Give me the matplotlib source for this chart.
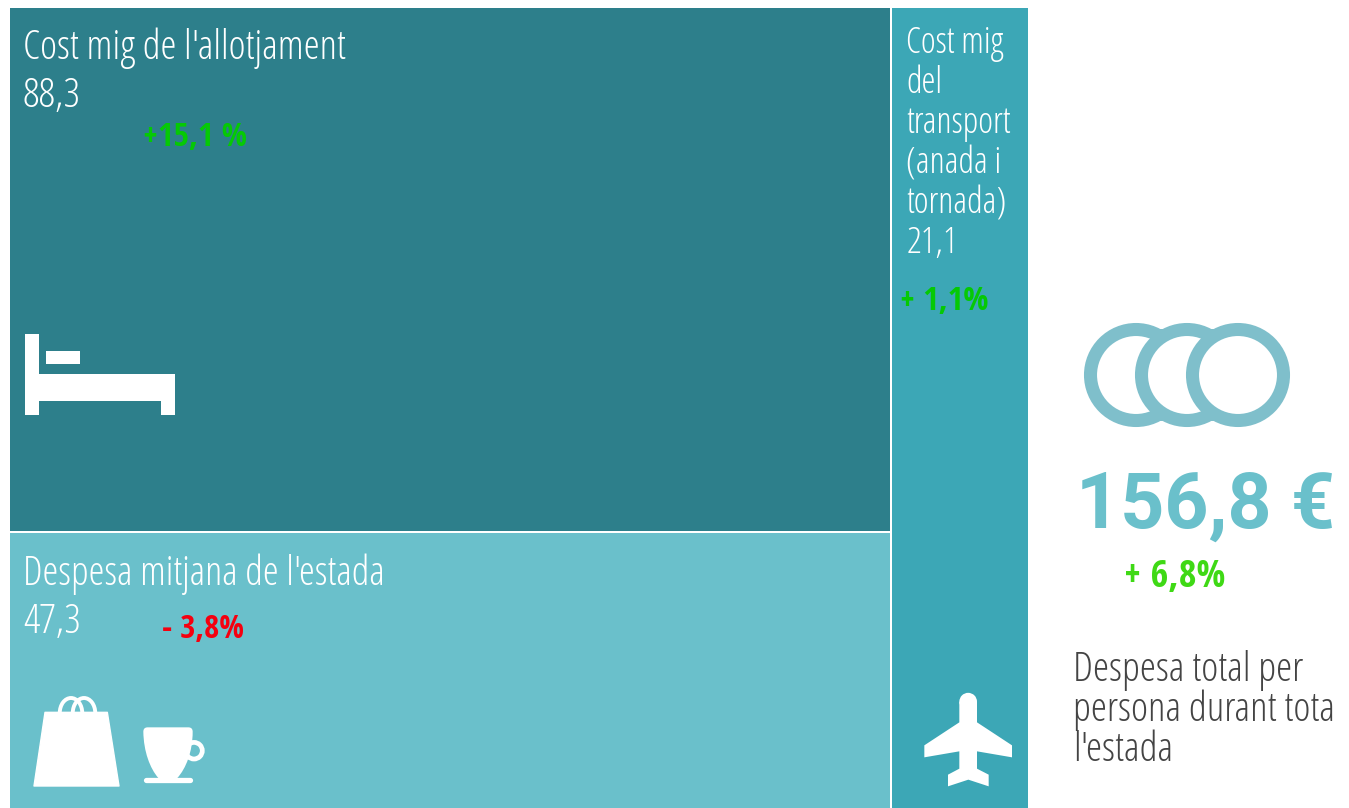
#!/usr/bin/env python3
"""Treemap of average spend per person, with icons and total panel."""

import numpy as np
import matplotlib
matplotlib.use("Agg")
import matplotlib.pyplot as plt
from matplotlib.patches import Rectangle, Polygon, Circle, Arc, PathPatch
from matplotlib.path import Path

# === Data ===
LABELS = ["Cost mig de l'allotjament", "Despesa mitjana de l'estada",
          "Cost mig\ndel\ntransport\n(anada i\ntornada)"]
VALUES = [88.3, 47.3, 21.1]
VALUE_LABELS = ["88,3", "47,3", "21,1"]
CHANGES = ["+15,1 %", "- 3,8%", "+ 1,1%"]
TOTAL_LABEL = "156,8 €"
TOTAL_CHANGE = "+ 6,8%"
TOTAL_TEXT = "Despesa total per\npersona durant tota\nl'estada"

# === Style ===
DARK = "#2d7f8b"
MID = "#3ca7b6"
LIGHT = "#6ac0cb"
RING = "#7fbfcb"
GREEN = "#05c905"
GREEN2 = "#3fd915"
RED = "#f5000f"
GREY = "#444444"
WHITE = "white"

NARROW = dict(family="Open Sans", stretch="condensed", weight=300, va="baseline")
BOLD = dict(family="Open Sans Condensed", weight=700, va="baseline")

fig = plt.figure(figsize=(13.49, 8.08), dpi=100)
ax = fig.add_axes([0, 0, 1, 1])
ax.set_xlim(0, 1349)
ax.set_ylim(808, 0)
ax.axis("off")

# === Treemap tiles ===
X0, Y0, W, H = 10, 8, 1018, 800
total = sum(VALUES)
left_w = W * (VALUES[0] + VALUES[1]) / total
top_h = H * VALUES[0] / (VALUES[0] + VALUES[1]) + 3
gap = 2
ax.add_patch(Rectangle((X0, Y0), left_w - gap / 2, top_h - gap / 2, fc=DARK, lw=0))
ax.add_patch(Rectangle((X0, Y0 + top_h + gap / 2), left_w - gap / 2, H - top_h - gap / 2, fc=LIGHT, lw=0))
ax.add_patch(Rectangle((X0 + left_w + gap / 2, Y0), W - left_w - gap / 2, H, fc=MID, lw=0))

# === Tile text ===
ax.text(23, 59, LABELS[0], color=WHITE, fontsize=29.3, **NARROW)
ax.text(23, 107, VALUE_LABELS[0], color=WHITE, fontsize=29.5, **NARROW)
ax.text(143, 146, CHANGES[0], color=GREEN, fontsize=24, **BOLD)

ax.text(23, 585, LABELS[1], color=WHITE, fontsize=29, **NARROW)
ax.text(23, 633, VALUE_LABELS[1], color=WHITE, fontsize=29.5, **NARROW)
ax.text(162, 638, CHANGES[1], color=RED, fontsize=23.5, **BOLD)

for i, line in enumerate(LABELS[2].split("\n")):
    ax.text(906, 53 + 40 * i, line, color=WHITE, fontsize=25.7, **NARROW)
ax.text(907, 253, VALUE_LABELS[2], color=WHITE, fontsize=26.5, **NARROW)
ax.text(900, 310, CHANGES[2], color=GREEN, fontsize=24, **BOLD)

# === Total panel ===
ax.text(1076, 528, TOTAL_LABEL, color=LIGHT, fontsize=55.5, weight="bold", va="baseline",
        family=["Roboto", "DejaVu Sans"])
ax.text(1124, 587, TOTAL_CHANGE, color=GREEN2, fontsize=27.5, **BOLD)
for i, line in enumerate(TOTAL_TEXT.split("\n")):
    ax.text(1073, 681 + 40 * i, line, color=GREY, fontsize=29.5, **NARROW)

# === Rings ===
for z, cx in enumerate([1136, 1187, 1238]):
    ax.add_patch(Circle((cx, 375), 45.5, fc=WHITE, ec=RING, lw=9.4, zorder=3 + z))
# soften the joins between rings
for cx in [1161.5, 1212.5]:
    for y in [329, 412]:
        ax.add_patch(Rectangle((cx - 4, y), 8, 9, fc=RING, lw=0, zorder=2))


def zoomed(points, ox, oy):
    pts = np.array(points, dtype=float)
    return pts / 3 + [ox, oy]


# === Bed ===
bed = [(46, 41), (88, 41), (88, 163), (495, 163), (495, 286), (454, 286), (454, 244),
       (88, 244), (88, 286), (46, 286)]
ax.add_patch(Polygon(zoomed(bed, 10, 320), fc=WHITE, lw=0))
pillow = [(108, 92), (210, 92), (210, 133), (108, 133)]
ax.add_patch(Polygon(zoomed(pillow, 10, 320), fc=WHITE, lw=0))

# === Shopping bag ===
bag = [(75, 97), (262, 97), (297, 318), (42, 318)]
ax.add_patch(Polygon(zoomed(bag, 20, 680), fc=WHITE, ec=WHITE, lw=1, joinstyle="round"))
for cx in [71, 84]:
    ax.add_patch(Arc((cx, 713), 22.5, 30, theta1=180, theta2=360, color=WHITE, lw=2.8))

# === Cup ===
ax.add_patch(Circle((194, 750.7), 8.3, fc="none", ec=WHITE, lw=3.4))
cup = zoomed([(370, 155), (370, 142), (383, 142), (505, 142), (518, 142), (518, 155),
              (518, 215), (498, 265), (472, 294), (415, 294), (390, 265), (371, 215), (370, 155)],
             20, 680)
codes = [Path.MOVETO, Path.CURVE3, Path.CURVE3, Path.LINETO, Path.CURVE3, Path.CURVE3,
         Path.CURVE4, Path.CURVE4, Path.CURVE4, Path.LINETO, Path.CURVE4, Path.CURVE4, Path.CURVE4]
ax.add_patch(PathPatch(Path(cup, codes), fc=WHITE, lw=0))
ax.plot([146, 190], [780, 780], color=WHITE, lw=3.8, solid_capstyle="round")

# === Plane ===
plane = zoomed([(178, 65), (178, 127), (73, 196), (73, 232), (178, 214), (178, 266), (144, 284),
                (144, 319), (205, 299), (266, 319), (266, 284), (231, 266), (231, 214),
                (336, 232), (336, 196), (231, 127), (231, 65)], 900, 680)
ax.add_patch(Polygon(plane, fc=WHITE, lw=0))
ax.add_patch(Circle((900 + 204.5 / 3, 680 + 65 / 3), 26.5 / 3, fc=WHITE, lw=0))

fig.savefig("out.png", dpi=100)
